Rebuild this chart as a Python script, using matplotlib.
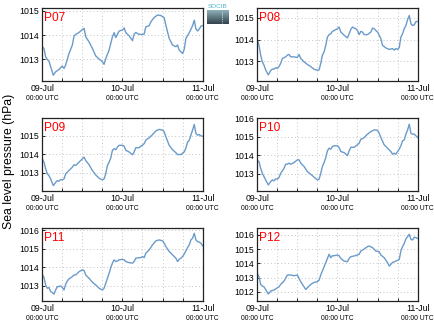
import numpy as np
import matplotlib
matplotlib.use("Agg")
import matplotlib.pyplot as plt
from matplotlib.ticker import MultipleLocator, FixedLocator

plt.rcParams['font.family'] = ['Liberation Sans', 'DejaVu Sans']

# ---------------- data (hours since 09-Jul 00:00 UTC, hPa) ----------------
names = ["P07", "P08", "P09", "P10", "P11", "P12"]

h07 = [0, 0.5, 1, 1.5, 2, 2.5, 3.3, 4, 5, 6, 6.5, 7, 8, 9, 9.5, 10, 11, 12, 12.5, 13, 14, 15, 16, 17, 18, 18.5, 19, 20, 21, 21.5, 22, 23, 24, 24.5, 25, 26, 27, 27.5, 28, 29, 30, 30.5, 31, 32, 32.5, 33.5, 34.5, 35.5, 36.5, 37, 38, 39, 40, 40.5, 41, 42, 42.5, 43, 44, 45, 45.5, 46, 46.5, 47, 47.5, 48]
p07 = [1013.52, 1013.45, 1013.10, 1012.99, 1012.92, 1012.69, 1012.34, 1012.48, 1012.58, 1012.72, 1012.62, 1012.76, 1013.24, 1013.59, 1013.96, 1014.03, 1014.11, 1014.23, 1014.28, 1013.93, 1013.72, 1013.45, 1013.14, 1013.01, 1012.90, 1012.79, 1013.03, 1013.38, 1013.93, 1014.10, 1013.90, 1014.17, 1014.21, 1014.30, 1014.10, 1013.97, 1013.77, 1014.04, 1014.11, 1014.03, 1014.03, 1014.04, 1014.34, 1014.39, 1014.55, 1014.73, 1014.83, 1014.81, 1014.72, 1014.41, 1013.86, 1013.59, 1013.52, 1013.59, 1013.38, 1013.24, 1013.41, 1013.86, 1014.10, 1014.39, 1014.62, 1014.25, 1014.17, 1014.25, 1014.37, 1014.39]

h08 = [0, 0.5, 1, 1.5, 2, 2.5, 3.3, 4, 4.5, 5, 5.5, 6, 6.5, 7, 7.5, 8, 8.5, 9, 9.5, 10, 11, 12, 12.5, 13, 14, 15, 16, 17, 18, 18.5, 19, 19.5, 20, 20.5, 21, 21.5, 22, 22.5, 23, 24, 24.5, 25, 26, 27, 27.5, 28, 28.5, 29, 29.5, 30, 30.5, 31, 31.5, 32, 33, 34, 34.5, 35, 35.5, 36, 36.5, 37, 37.5, 38.5, 39.5, 40.5, 41, 41.5, 42, 42.5, 43, 43.5, 44, 44.5, 45, 45.5, 46, 46.5, 47, 47.5, 48]
p08 = [1014.00, 1013.74, 1013.29, 1012.98, 1012.83, 1012.61, 1012.38, 1012.58, 1012.65, 1012.64, 1012.71, 1012.68, 1012.76, 1012.91, 1013.14, 1013.17, 1013.21, 1013.29, 1013.32, 1013.21, 1013.21, 1013.18, 1013.32, 1013.14, 1012.98, 1012.86, 1012.76, 1012.64, 1012.59, 1012.61, 1012.91, 1013.29, 1013.44, 1013.74, 1014.12, 1014.23, 1014.27, 1014.38, 1014.42, 1014.50, 1014.58, 1014.35, 1014.20, 1014.08, 1014.27, 1014.47, 1014.58, 1014.53, 1014.50, 1014.42, 1014.23, 1014.38, 1014.35, 1014.23, 1014.23, 1014.35, 1014.53, 1014.50, 1014.42, 1014.35, 1014.20, 1014.05, 1013.74, 1013.62, 1013.55, 1013.59, 1013.52, 1013.59, 1013.55, 1013.64, 1014.12, 1014.27, 1014.50, 1014.65, 1014.92, 1015.11, 1014.73, 1014.65, 1014.68, 1014.83, 1014.83]

h09 = [0, 0.5, 1, 1.5, 2, 2.5, 3.3, 4, 4.5, 5, 5.5, 6, 6.5, 7, 8, 9, 9.5, 10, 11, 12, 12.5, 13, 14, 15, 16, 17, 18, 18.5, 19, 19.5, 20, 20.5, 21, 21.5, 22, 22.5, 23, 24, 24.5, 25, 26, 27, 27.5, 28, 29, 29.5, 30, 30.5, 31, 31.5, 32, 33, 34, 35, 36, 36.5, 37, 38, 39, 40, 40.5, 41, 41.5, 42, 42.5, 43, 43.5, 44, 44.5, 45, 45.5, 46, 46.5, 47, 47.5, 48]
p09 = [1013.76, 1013.58, 1013.22, 1012.95, 1012.85, 1012.67, 1012.31, 1012.49, 1012.58, 1012.55, 1012.64, 1012.62, 1012.67, 1012.95, 1013.13, 1013.31, 1013.44, 1013.40, 1013.58, 1013.76, 1013.85, 1013.67, 1013.44, 1013.13, 1012.89, 1012.71, 1012.62, 1012.67, 1012.95, 1013.40, 1013.58, 1013.80, 1014.22, 1014.31, 1014.25, 1014.40, 1014.49, 1014.49, 1014.45, 1014.22, 1014.13, 1013.98, 1014.13, 1014.36, 1014.36, 1014.45, 1014.49, 1014.58, 1014.76, 1014.85, 1014.89, 1015.07, 1015.27, 1015.35, 1015.31, 1015.22, 1014.95, 1014.49, 1014.25, 1014.09, 1013.98, 1014.00, 1013.98, 1014.07, 1014.13, 1014.35, 1014.67, 1014.76, 1015.04, 1015.31, 1015.62, 1015.13, 1015.04, 1015.07, 1015.00, 1014.98]

h10 = [0, 0.5, 1, 1.5, 2, 2.5, 3.3, 4, 4.5, 5, 5.5, 6, 6.5, 7, 7.5, 8, 8.5, 9, 9.5, 10, 11, 12, 12.5, 13, 14, 15, 16, 17, 18, 18.5, 19, 19.5, 20, 20.5, 21, 21.5, 22, 22.5, 23, 24, 24.5, 25, 26, 27, 27.5, 28, 29, 29.5, 30, 30.5, 31, 31.5, 32, 33, 34, 35, 35.5, 36, 36.5, 37, 38, 39, 40, 40.5, 41, 41.5, 42, 42.5, 43, 43.5, 44, 44.5, 45, 45.5, 46, 46.5, 47, 47.5, 48]
p10 = [1013.71, 1013.66, 1013.29, 1013.02, 1012.84, 1012.66, 1012.39, 1012.57, 1012.66, 1012.61, 1012.72, 1012.70, 1012.79, 1013.02, 1013.15, 1013.29, 1013.51, 1013.51, 1013.57, 1013.51, 1013.60, 1013.75, 1013.75, 1013.57, 1013.39, 1013.11, 1012.97, 1012.81, 1012.66, 1012.70, 1013.02, 1013.39, 1013.60, 1013.87, 1014.24, 1014.38, 1014.33, 1014.47, 1014.51, 1014.51, 1014.42, 1014.20, 1014.14, 1013.98, 1014.24, 1014.43, 1014.43, 1014.51, 1014.56, 1014.65, 1014.87, 1014.89, 1014.96, 1015.14, 1015.28, 1015.37, 1015.37, 1015.34, 1015.19, 1014.96, 1014.56, 1014.38, 1014.20, 1014.05, 1014.11, 1014.05, 1014.20, 1014.33, 1014.51, 1014.78, 1014.83, 1015.14, 1015.37, 1015.68, 1015.19, 1015.14, 1015.14, 1015.05, 1014.96]

h11 = [0, 0.5, 1, 1.5, 2, 2.5, 3, 3.5, 4, 4.5, 5, 5.5, 6, 6.5, 7, 7.5, 8, 9, 9.5, 10, 11, 12, 12.5, 13, 14, 15, 16, 17, 18, 18.5, 19, 19.5, 20, 20.5, 21, 21.5, 22, 22.5, 23, 24, 24.5, 25, 26, 27, 27.5, 28, 29, 29.5, 30, 30.5, 31, 31.5, 32, 33, 34, 35, 36, 36.5, 37, 38, 39, 40, 40.5, 41, 41.5, 42, 42.5, 43, 43.5, 44, 44.5, 45, 45.5, 46, 46.5, 47, 47.5, 48]
p11 = [1013.62, 1013.44, 1013.04, 1012.86, 1012.90, 1012.68, 1012.63, 1012.54, 1012.77, 1012.95, 1012.95, 1012.99, 1012.90, 1012.77, 1013.08, 1013.26, 1013.37, 1013.49, 1013.58, 1013.58, 1013.76, 1013.86, 1013.82, 1013.58, 1013.40, 1013.19, 1013.04, 1012.86, 1012.77, 1012.86, 1013.13, 1013.40, 1013.67, 1013.98, 1014.22, 1014.40, 1014.31, 1014.34, 1014.40, 1014.43, 1014.40, 1014.31, 1014.25, 1014.22, 1014.31, 1014.49, 1014.52, 1014.52, 1014.58, 1014.52, 1014.76, 1014.85, 1014.94, 1015.21, 1015.43, 1015.48, 1015.43, 1015.30, 1015.12, 1014.85, 1014.67, 1014.49, 1014.31, 1014.43, 1014.49, 1014.58, 1014.71, 1014.89, 1015.07, 1015.21, 1015.48, 1015.57, 1015.84, 1015.48, 1015.39, 1015.36, 1015.30, 1015.16]

h12 = [0, 0.5, 1, 1.5, 2, 2.5, 3.3, 4, 5, 6, 6.5, 7, 8, 9, 10, 11, 12, 12.5, 13, 14, 14.5, 15, 16, 17, 18, 18.5, 19, 20, 21, 21.5, 22, 22.5, 23, 24, 24.5, 25, 26, 27, 27.5, 28, 29, 30, 30.5, 31, 32, 33, 33.5, 34.5, 35.5, 36.5, 37, 38, 39, 39.5, 40, 40.5, 41.5, 42.5, 43, 43.5, 44, 44.5, 45, 45.5, 46, 46.5, 47, 47.5, 48]
p12 = [1013.29, 1013.06, 1012.52, 1012.40, 1012.35, 1012.16, 1011.84, 1012.05, 1012.12, 1012.28, 1012.35, 1012.52, 1012.75, 1013.18, 1013.18, 1013.13, 1013.18, 1012.94, 1012.71, 1012.35, 1012.16, 1012.28, 1012.52, 1012.66, 1012.71, 1012.82, 1013.18, 1013.76, 1014.35, 1014.64, 1014.40, 1014.54, 1014.54, 1014.59, 1014.54, 1014.35, 1014.16, 1014.12, 1014.35, 1014.47, 1014.52, 1014.59, 1014.64, 1014.87, 1015.01, 1015.18, 1015.22, 1015.11, 1014.87, 1014.82, 1014.59, 1014.40, 1014.05, 1013.81, 1013.93, 1014.07, 1014.16, 1014.28, 1014.87, 1015.18, 1015.41, 1015.72, 1015.88, 1016.05, 1015.69, 1015.65, 1015.84, 1015.81, 1015.76]

hours = [h07, h08, h09, h10, h11, h12]
values = [p07, p08, p09, p10, p11, p12]
ylims = [(1012.10, 1015.11), (1012.10, 1015.44), (1012.02, 1015.95),
         (1012.06, 1016.00), (1012.17, 1016.11), (1011.35, 1016.47)]

tick_hours = [0, 24, 48]
tick_days = ["09-Jul", "10-Jul", "11-Jul"]
tick_times = ["00:00 UTC", "00:00 UTC", "00:00 UTC"]
ylabel = "Sea level pressure (hPa)"

# ---------------- figure ----------------
W, H = 435, 327
fig = plt.figure(figsize=(W / 100, H / 100), dpi=100)

col_left = [42.3, 257.3]
ax_w = 160.3
row_top = [8.3, 118.3, 228.3]
ax_h = 72.7

line_color = "#6b9bca"
grid_color = "#c4c4c4"

for i, name in enumerate(names):
    r, c = divmod(i, 2)
    x0 = col_left[c] / W
    y0 = 1 - (row_top[r] + ax_h) / H
    ax = fig.add_axes([x0, y0, ax_w / W, ax_h / H])
    ax.plot(hours[i], values[i], color=line_color, lw=1.0)
    ax.set_xlim(0, 48)
    ax.set_ylim(*ylims[i])
    ax.xaxis.set_major_locator(FixedLocator(tick_hours))
    ax.xaxis.set_minor_locator(MultipleLocator(6))
    ax.yaxis.set_major_locator(MultipleLocator(1))
    ax.set_xticklabels(tick_days)
    ax.yaxis.set_major_formatter(matplotlib.ticker.FormatStrFormatter('%d'))
    ax.grid(True, which='major', axis='y', color=grid_color, ls=(0, (1, 2.5)), lw=0.7)
    ax.grid(True, which='both', axis='x', color=grid_color, ls=(0, (1, 2.5)), lw=0.7)
    ax.tick_params(axis='both', which='major', direction='in', length=2.5, width=0.6,
                   labelsize=6.3, pad=2.5, colors='black')
    ax.tick_params(axis='x', which='minor', direction='in', length=2, width=0.6)
    for s in ax.spines.values():
        s.set_linewidth(0.9)
        s.set_color('#222222')
    for th, tt in zip(tick_hours, tick_times):
        ax.annotate(tt, xy=(th, 0), xycoords=('data', 'axes fraction'),
                    xytext=(0, -12.8), textcoords='offset points',
                    ha='center', va='center', fontsize=4.9, color='black',
                    annotation_clip=False)
    ax.text(0.012, 0.955, name, transform=ax.transAxes, color='red',
            fontsize=8.6, ha='left', va='top')

fig.text(9.5 / W, 0.505, ylabel, rotation=90, ha='center', va='center', fontsize=8.8)

# small logo
lax = fig.add_axes([207 / W, 1 - 24 / H, 21 / W, 14 / H])
grad = np.linspace(0, 1, 32).reshape(-1, 1)
cmap = matplotlib.colors.LinearSegmentedColormap.from_list('g', ['#8db0b8', '#34434d'])
lax.imshow(grad, aspect='auto', cmap=cmap, extent=(0, 1, 1, 0))
lax.plot([0.72, 0.72], [0.15, 0.9], color='white', lw=0.6, ls=(0, (1, 1.5)))
lax.set_xlim(0, 1)
lax.set_ylim(1, 0)
lax.axis('off')
fig.text(217.5 / W, 1 - 6.2 / H, "SOCIB", color='#4fb3c8', fontsize=4.6,
         ha='center', va='center')

fig.savefig("out.png", dpi=100)
